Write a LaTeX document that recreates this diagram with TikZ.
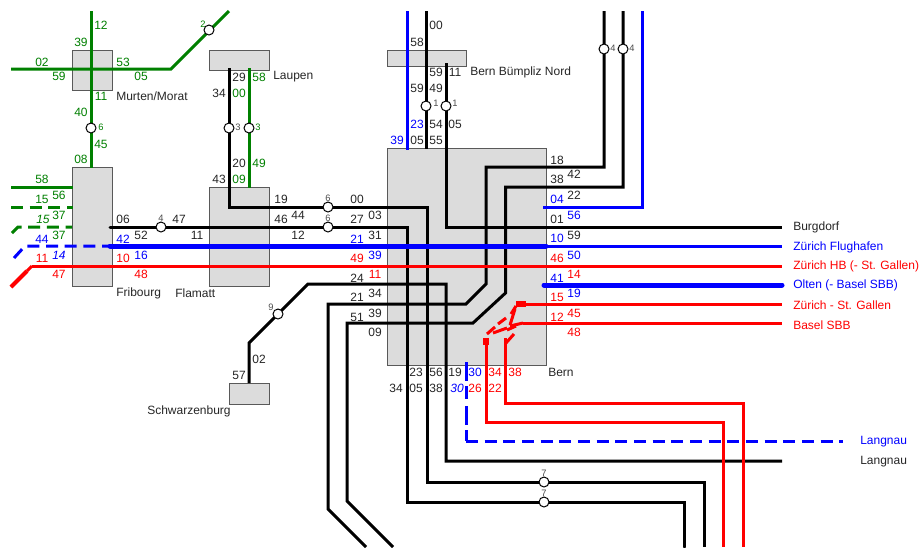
\documentclass[tikz,border=0pt]{standalone}
\usepackage{fontspec}
\setmainfont{Liberation Sans}
\definecolor{tgreen}{RGB}{0,128,0}
\definecolor{tblue}{RGB}{0,0,255}
\definecolor{tred}{RGB}{255,0,0}
\definecolor{tgrey}{RGB}{220,220,220}
\begin{document}
\begin{tikzpicture}[x=0.75pt,y=-0.75pt,
  stationbox/.style={draw=black!65,line width=0.75pt,fill=tgrey},
  ln/.style={line width=2.25pt,line join=miter},
  thinln/.style={line width=2.25pt},
  thickln/.style={line width=3.75pt,line cap=round},
  dsh/.style={line width=2.25pt,dash pattern=on 9pt off 5pt},
  stop/.style={circle,draw=black,fill=white,line width=0.75pt,minimum size=7.5pt,inner sep=0pt},
  lb/.style={font=\fontsize{9}{10}\selectfont,inner sep=0pt,anchor=center},
  lk/.style={lb,text=black!85},
  lg/.style={lb,text=tgreen},
  lu/.style={lb,text=tblue},
  lr/.style={lb,text=tred},
  lgi/.style={lb,text=tgreen,font=\fontsize{9}{10}\selectfont\rmfamily\itshape},
  lui/.style={lb,text=tblue,font=\fontsize{9}{10}\selectfont\rmfamily\itshape},
  sm/.style={lb,text=black!70,font=\fontsize{7}{8}\selectfont},
  smg/.style={lb,text=tgreen,font=\fontsize{7}{8}\selectfont},
  nm/.style={font=\fontsize{9}{10}\selectfont,inner sep=0pt,anchor=west,text=black!85},
]
\useasboundingbox (0,0) rectangle (920,547);
\fill[white] (0,0) rectangle (920,547);
% boxes
\draw[stationbox] (72,50) rectangle (112,90);
\draw[stationbox] (209,50) rectangle (269,70);
\draw[stationbox] (72,167) rectangle (112,286);
\draw[stationbox] (209,187) rectangle (269,286);
\draw[stationbox] (229,383) rectangle (269,404);
\draw[stationbox] (387,50) rectangle (466,66);
\draw[stationbox] (387,148.5) rectangle (546,365);
% named coordinates
\coordinate (sA) at (91,128);
% green lines
\draw[ln,tgreen] (91,11) -- (91,168);
\draw[ln,tgreen] (11,69) -- (171,69) -- (229,11);
\draw[ln,tgreen] (249,68) -- (249,188);
\draw[ln,tgreen] (11,187) -- (73,187);
\draw[dsh,tgreen] (11,207) -- (73,207);
\draw[dsh,tgreen] (12,233) -- (18,227) -- (72,227);
% black lines
\draw[ln,black] (229,68) -- (229,207) -- (427,207) -- (427,482) -- (704,482) -- (704,547);
\draw[ln,black,line cap=round] (110,227) -- (407,227) -- (407,502) -- (684,502) -- (684,547);
\draw[ln,black] (426,11) -- (426,149);
\draw[ln,black] (446,63) -- (446,227) -- (782,227);
\draw[ln,black] (249,383) -- (249,343) -- (308,284) -- (446,284) -- (446,461) -- (782,461);
\draw[ln,black] (366,547) -- (328,509) -- (328,304) -- (466,304) -- (486,284) -- (486,167) -- (604,167) -- (604,11);
\draw[ln,black] (393,547) -- (347,501) -- (347,323) -- (473,323) -- (505.5,293) -- (505.5,187) -- (623,187) -- (623,11);
% blue lines
\draw[ln,tblue] (407,11) -- (407,150);
\draw[ln,tblue] (642,11) -- (642,207) -- (543,207);
\draw[thickln,tblue] (110,246) -- (546,246);
\draw[ln,tblue] (546,246) -- (782,246);
\draw[dsh,tblue] (14,258) -- (25,246) -- (110,246);
\draw[thickln,tblue] (544,285) -- (782,285);
\draw[dsh,tblue,dash pattern=on 14pt off 4pt on 10pt off 5pt] (466,362) -- (466,441);
\draw[dsh,tblue] (466,441) -- (843,441);
% red lines
\draw[ln,tred] (32,266) -- (782,266);
\draw[line width=3pt,tred] (11,287) -- (27,271);
\draw[ln,tred] (27,271) -- (32,266);
\draw[ln,tred] (523,304) -- (782,304);
\draw[ln,tred] (523,323) -- (782,323);
\draw[ln,tred] (486,342) -- (486,422) -- (723,422) -- (723,547);
\draw[ln,tred] (505,345) -- (505,403) -- (743,403) -- (743,547);
\draw[line width=4pt,tred] (486,338) -- (486,345);
\draw[line width=4pt,tred] (516,304) -- (526,304);
\draw[line width=2.25pt,tred] (487,334) -- (495,327);
\draw[line width=2.25pt,tred] (498,324) -- (506,318);
\draw[line width=2.25pt,tred] (511,314) -- (516,306);
\draw[line width=2.25pt,tred] (515,309) -- (510,325);
\draw[line width=2.25pt,tred] (493,333) -- (507,328);
\draw[line width=2.25pt,tred] (510,326) -- (523,323);
\draw[line width=2.25pt,tred] (516,326) -- (507,330);
\draw[line width=2.25pt,tred] (505,338) -- (505,345);
\draw[line width=2.25pt,tred] (506,343) -- (514,334);
% stops
\node[stop] (s1) at (91,128) {};
\node[stop] (s2) at (209,30) {};
\node[stop] (s3) at (229,128) {};
\node[stop] (s4) at (249,128) {};
\node[stop] (s5) at (426,106) {};
\node[stop] (s6) at (446,106) {};
\node[stop] (s7) at (604,49) {};
\node[stop] (s8) at (623,49) {};
\node[stop] (s9) at (161,227) {};
\node[stop] (s10) at (328,207) {};
\node[stop] (s11) at (328,227) {};
\node[stop] (s12) at (278,314) {};
\node[stop] (s13) at (544,482) {};
\node[stop] (s14) at (544,502) {};
% small labels
\node[smg] at (101,127) {6};
\node[smg] at (203,24) {2};
\node[sm] at (238,127) {3};
\node[smg] at (258,127) {3};
\node[sm] at (436,103) {1};
\node[sm] at (455,103) {1};
\node[sm] at (613,48) {4};
\node[sm] at (632,48) {4};
\node[sm] at (161,218) {4};
\node[sm] at (328,198) {6};
\node[sm] at (328,218) {6};
\node[sm] at (271,307) {9};
\node[sm] at (544,473) {7};
\node[sm] at (544,493) {7};
% names
\node[nm] at (116,96) {Murten/Morat};
\node[nm] at (273,77) {Laupen};
\node[nm] at (116,293) {Fribourg};
\node[nm] at (175,293) {Flamatt};
\node[nm] at (147,411) {Schwarzenburg};
\node[nm] at (470,72) {Bern Bümpliz Nord};
\node[nm] at (548,372) {Bern};
\node[nm] at (793,227) {Burgdorf};
\node[nm,text=tblue] at (793,247) {Zürich Flughafen};
\node[nm,text=tred] at (793,266) {Zürich HB (- St. Gallen)};
\node[nm,text=tblue] at (793,285) {Olten (- Basel SBB)};
\node[nm,text=tred] at (793,305) {Zürich - St. Gallen};
\node[nm,text=tred] at (793,325) {Basel SBB};
\node[nm,text=tblue] at (860,442) {Langnau};
\node[nm] at (860,462) {Langnau};
% Murten
\node[lg] at (101,25) {12};
\node[lg] at (81,42) {39};
\node[lg] at (42,62) {02};
\node[lg] at (59,76) {59};
\node[lg] at (123,62) {53};
\node[lg] at (141,76) {05};
\node[lg] at (101,96) {11};
\node[lg] at (81,112) {40};
\node[lg] at (101,144) {45};
\node[lg] at (81,159) {08};
% Laupen
\node[lk] at (239,77) {29};
\node[lg] at (259,77) {58};
\node[lk] at (219,93) {34};
\node[lg] at (239,93) {00};
\node[lk] at (239,163) {20};
\node[lg] at (259,163) {49};
\node[lk] at (219,179) {43};
\node[lg] at (239,179) {09};
% Fribourg left
\node[lg] at (42,179) {58};
\node[lg] at (59,195) {56};
\node[lg] at (42,199) {15};
\node[lg] at (59,215) {37};
\node[lgi] at (43,219) {15};
\node[lg] at (59,235) {37};
\node[lu] at (42,239) {44};
\node[lui] at (59,255) {14};
\node[lr] at (42,258) {11};
\node[lr] at (59,274) {47};
% Fribourg right
\node[lk] at (123,219) {06};
\node[lk] at (141,235) {52};
\node[lu] at (123,239) {42};
\node[lu] at (141,255) {16};
\node[lr] at (123,258) {10};
\node[lr] at (141,274) {48};
\node[lk] at (179,219) {47};
\node[lk] at (197,235) {11};
% Flamatt right
\node[lk] at (281,199) {19};
\node[lk] at (281,219) {46};
\node[lk] at (298,215) {44};
\node[lk] at (298,235) {12};
\node[lk] at (357,199) {00};
\node[lk] at (375,215) {03};
\node[lk] at (357,219) {27};
\node[lk] at (375,235) {31};
\node[lu] at (357,239) {21};
\node[lu] at (375,255) {39};
\node[lr] at (357,258) {49};
\node[lr] at (375,274) {11};
\node[lk] at (357,278) {24};
\node[lk] at (375,293) {34};
\node[lk] at (357,297) {21};
\node[lk] at (375,313) {39};
\node[lk] at (357,317) {51};
\node[lk] at (375,332) {09};
% Schwarzenburg
\node[lk] at (259,359) {02};
\node[lk] at (239,375) {57};
% Bumpliz
\node[lk] at (436,25) {00};
\node[lk] at (417,42) {58};
\node[lk] at (436,72) {59};
\node[lk] at (455,72) {11};
\node[lk] at (417,88) {59};
\node[lk] at (436,88) {49};
\node[lu] at (417,124) {23};
\node[lk] at (436,124) {54};
\node[lk] at (455,124) {05};
\node[lu] at (397,140) {39};
\node[lk] at (417,140) {05};
\node[lk] at (436,140) {55};
% Bern right
\node[lk] at (557,160) {18};
\node[lk] at (557,179) {38};
\node[lk] at (574,174) {42};
\node[lu] at (557,199) {04};
\node[lk] at (574,195) {22};
\node[lk] at (557,219) {01};
\node[lu] at (574,215) {56};
\node[lu] at (557,238) {10};
\node[lk] at (574,235) {59};
\node[lr] at (557,258) {46};
\node[lu] at (574,255) {50};
\node[lu] at (557,278) {41};
\node[lr] at (574,274) {14};
\node[lr] at (557,297) {15};
\node[lu] at (574,293) {19};
\node[lr] at (557,317) {12};
\node[lr] at (574,313) {45};
\node[lr] at (574,332) {48};
% Bern bottom
\node[lk] at (416,372) {23};
\node[lk] at (436,372) {56};
\node[lk] at (455,372) {19};
\node[lu] at (475,372) {30};
\node[lr] at (495,372) {34};
\node[lr] at (515,372) {38};
\node[lk] at (396,388) {34};
\node[lk] at (416,388) {05};
\node[lk] at (436,388) {38};
\node[lui] at (457,388) {30};
\node[lr] at (475,388) {26};
\node[lr] at (495,388) {22};
\end{tikzpicture}
\end{document}
